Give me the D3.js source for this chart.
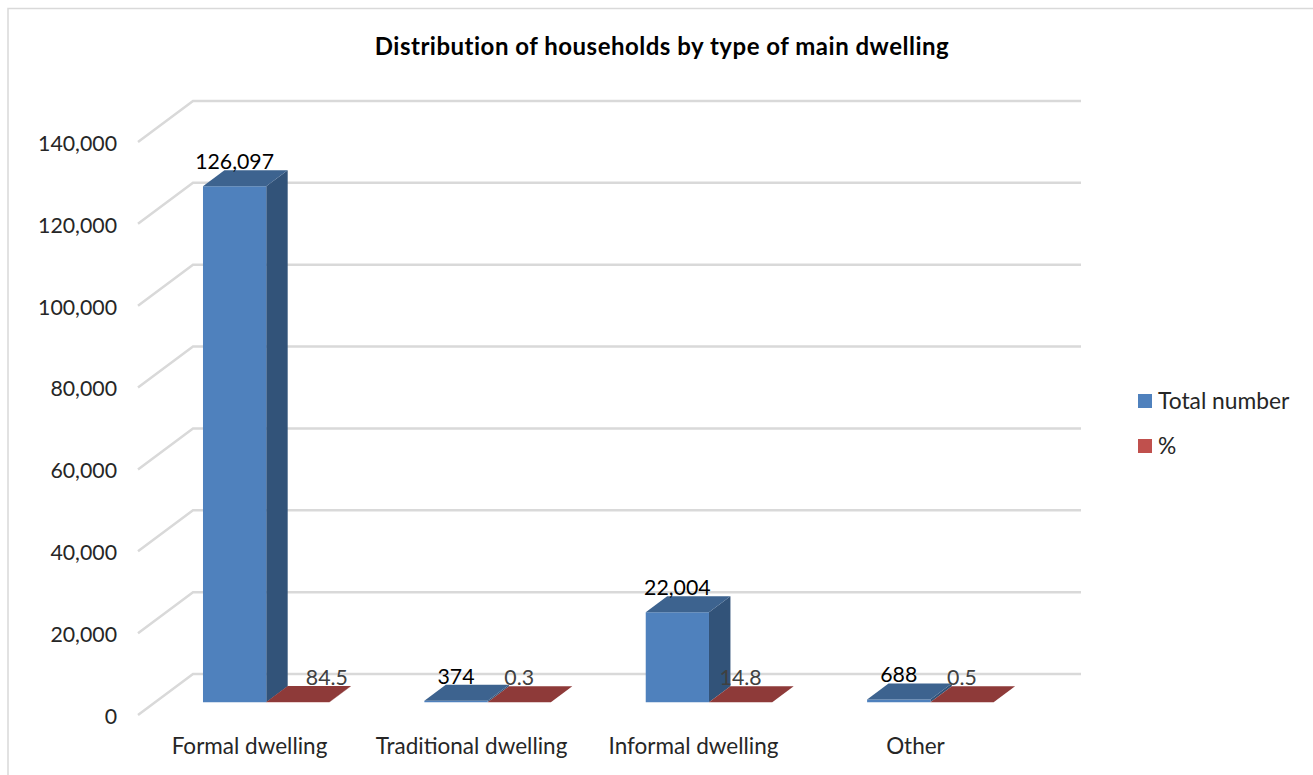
<!DOCTYPE html>
<html>
<head>
<meta charset="utf-8">
<script src="https://cdn.jsdelivr.net/npm/d3@7"></script>
<style>
html, body { margin: 0; padding: 0; background: #fff; }
svg { display: block; }
text { font-family: Lato, "Open Sans", sans-serif; }
</style>
</head>
<body>
<svg id="chart" width="1313" height="775"></svg>
<script>
const chartTitle = "Distribution of households by type of main dwelling";
const categories = ["Formal dwelling", "Traditional dwelling", "Informal dwelling", "Other"];
const seriesNames = ["Total number", "%"];
const totalNumber = [126097, 374, 22004, 688];
const percent = [84.5, 0.3, 14.8, 0.5];
const yTicks = [0, 20000, 40000, 60000, 80000, 100000, 120000, 140000];

const seriesValues = [totalNumber, percent];
const labelFormats = [d3.format(","), d3.format(".1f")];

// Front plane of the 3-D box and the offset to its back wall.
const plot = { left: 138, right: 1026, bottom: 715, top: 142 };
const wall = { dx: 55, dy: -41 };
// Depth range occupied by the columns, as a fraction of the box depth.
const barDepth = { near: 0.31, far: 0.70 };

const palette = [
  { front: "#4f81bd", side: "#325379", top: "#3d638f", legend: "#4f81bd", label: "#000000" },
  { front: "#b04b48", side: "#7a302e", top: "#8e3a39", legend: "#c0504d", label: "#404040" }
];

const svg = d3.select("#chart");
const y = d3.scaleLinear().domain([0, 140000]).range([plot.bottom, plot.top]);
const xLabels = d3.scaleBand().domain(d3.range(categories.length)).range([plot.left, plot.right]);
const x0 = d3.scaleBand().domain(d3.range(categories.length)).range([plot.left + 0.5, plot.right - 2]);
const x1 = d3.scaleBand().domain(d3.range(seriesNames.length))
  .range([0, x0.bandwidth()]).paddingOuter(0.75).paddingInner(0);

// Window frame on the top and left.
svg.append("path").attr("d", "M8,775V8.5H1313").attr("fill", "none")
  .attr("stroke", "#d9d9d9").attr("stroke-width", 1.5);

// Wall gridlines with their diagonal run along the side wall.
svg.append("g").selectAll("path").data(yTicks).join("path")
  .attr("fill", "none").attr("stroke", "#d9d9d9").attr("stroke-width", 2.5)
  .attr("d", t => d3.line()([
    [plot.left, y(t)],
    [plot.left + wall.dx, y(t) + wall.dy],
    [plot.right + wall.dx, y(t) + wall.dy]
  ]));

// Value axis along the front edge.
const yAxis = svg.append("g").attr("transform", `translate(${plot.left - 21},1.5)`)
  .call(d3.axisLeft(y).tickValues(yTicks).tickSize(0).tickPadding(0).tickFormat(d3.format(",")));
yAxis.select(".domain").remove();
yAxis.selectAll("text").attr("font-size", 21.3).attr("fill", "#262626").attr("dy", "0.32em");

// Category labels.
svg.append("g").selectAll("text").data(categories).join("text")
  .attr("x", (d, i) => xLabels(i) + xLabels.bandwidth() / 2 + 0.5).attr("y", 754)
  .attr("text-anchor", "middle").attr("font-size", 22.5).attr("fill", "#262626")
  .text(d => d);

// Columns: each has a front, side and top face.
const nearX = barDepth.near * wall.dx, nearY = barDepth.near * wall.dy;
const depthX = (barDepth.far - barDepth.near) * wall.dx;
const depthY = (barDepth.far - barDepth.near) * wall.dy;

const columns = categories.flatMap((c, ci) => seriesNames.map((s, si) => ({
  ci, si, value: seriesValues[si][ci],
  x: x0(ci) + x1(si) + nearX,
  w: x1.bandwidth(),
  yTop: y(seriesValues[si][ci]) + nearY,
  yBase: y(0) + nearY
})));
const outline = pts => d3.line()(pts) + "Z";

const bars = svg.append("g").selectAll("g").data(columns).join("g");
bars.append("path").attr("fill", d => palette[d.si].side).attr("d", d => outline([
  [d.x + d.w, d.yTop], [d.x + d.w + depthX, d.yTop + depthY],
  [d.x + d.w + depthX, d.yBase + depthY], [d.x + d.w, d.yBase]
]));
bars.append("path").attr("fill", d => palette[d.si].front).attr("d", d => outline([
  [d.x, d.yTop], [d.x + d.w, d.yTop], [d.x + d.w, d.yBase], [d.x, d.yBase]
]));
bars.append("path").attr("fill", d => palette[d.si].top).attr("d", d => outline([
  [d.x, d.yTop], [d.x + d.w, d.yTop],
  [d.x + d.w + depthX, d.yTop + depthY], [d.x + depthX, d.yTop + depthY]
]));

// Value labels sit above the front face; the largest percentage is nudged clear of its column.
const nudged = (d) => (d.si === 1 && d.ci === 0) ? 29 : 0;
svg.append("g").selectAll("text").data(columns).join("text")
  .attr("x", d => d.x + d.w / 2 + nudged(d))
  .attr("y", d => d.yTop - 17)
  .attr("text-anchor", "middle").attr("font-size", 21.3)
  .attr("fill", d => palette[d.si].label)
  .text(d => labelFormats[d.si](d.value));

// Legend.
const legend = svg.append("g").selectAll("g").data(seriesNames).join("g")
  .attr("transform", (d, i) => `translate(1138,${394 + i * 45})`);
legend.append("rect").attr("width", 14).attr("height", 14)
  .attr("fill", (d, i) => palette[i].legend);
legend.append("text").attr("x", 20).attr("y", 15).attr("font-size", 22.8)
  .attr("fill", "#262626").text(d => d);

// Title.
svg.append("text").attr("x", 662).attr("y", 55).attr("text-anchor", "middle")
  .attr("font-size", 24).attr("letter-spacing", 0.5).attr("font-weight", 700)
  .attr("fill", "#000").text(chartTitle);
</script>
</body>
</html>
